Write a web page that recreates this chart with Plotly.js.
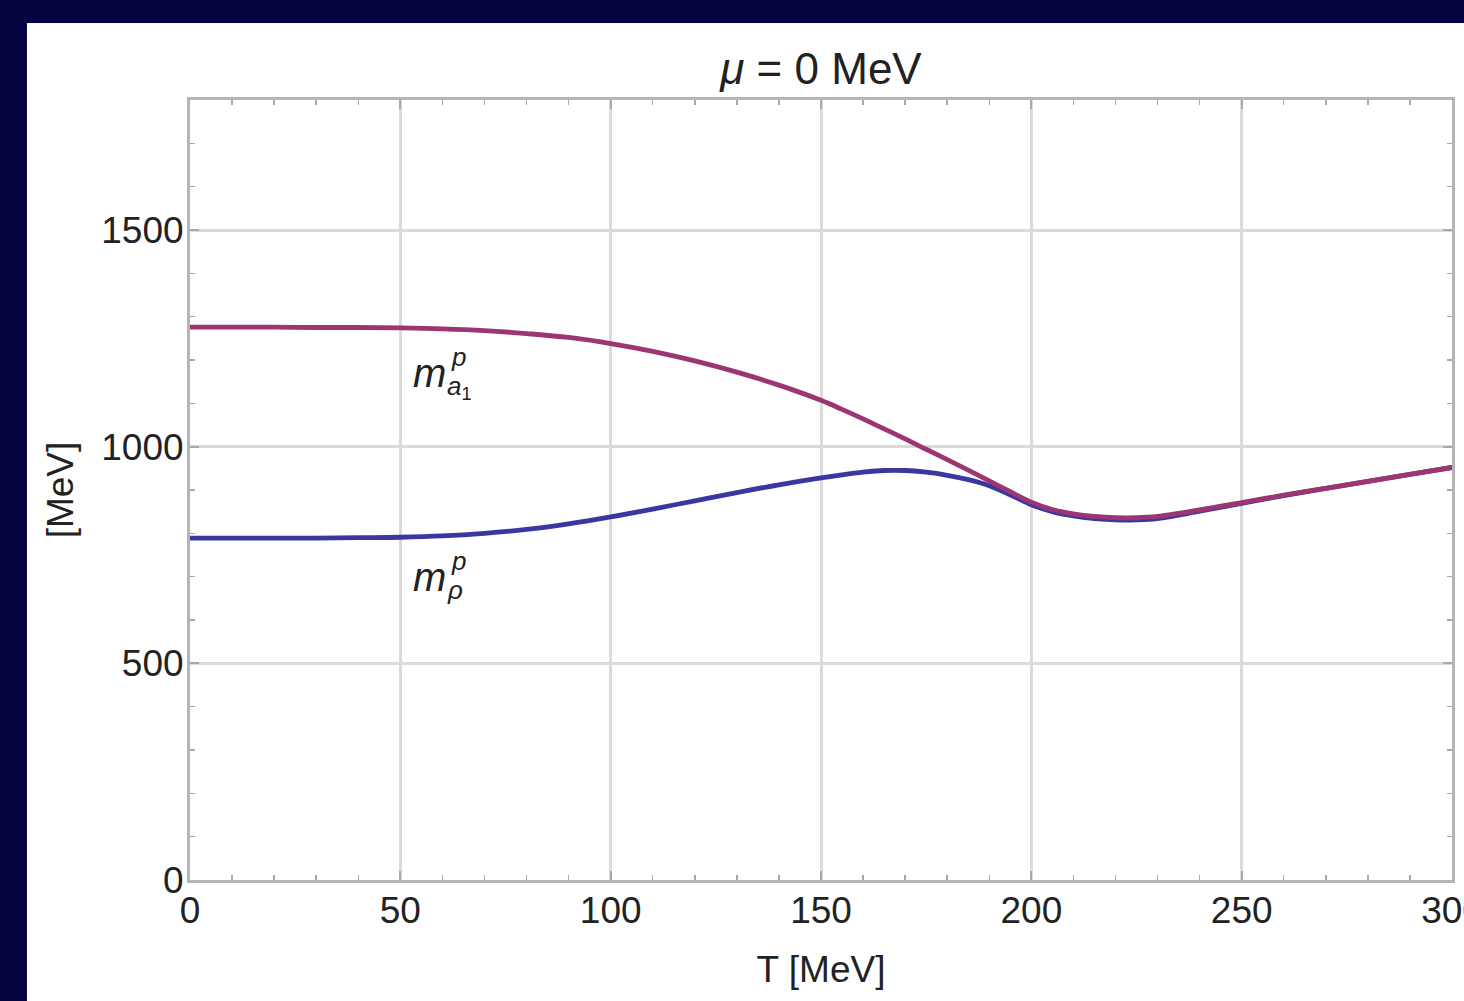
<!DOCTYPE html>
<html>
<head>
<meta charset="utf-8">
<script src="https://cdn.plot.ly/plotly-3.0.1.min.js"></script>
<style>html,body{margin:0;padding:0;background:#050340;}#chart{width:1464px;height:1001px;}</style>
</head>
<body>
<div id="chart"></div>
<script>
const T = [0,10,20,30,40,50,60,70,80,90,100,110,120,130,140,150,155,160,165,170,175,180,185,190,195,200,205,210,215,220,225,230,240,250,260,270,280,290,300];
const mA1 = [1276,1276,1276,1275,1275,1274,1272,1268,1261,1252,1238,1220,1198,1172,1142,1107,1086,1064,1041,1018,994,970,946,921,896,872,855,845,839,836,836,839,854,871,888,904,920,936,952];
const mRho = [789,789,789,789,790,791,794,800,809,822,838,856,875,894,912,928,935,941,945,945,941,934,924,910,889,866,850,840,834,831,831,834,851,869,887,904,920,936,952];
const xTicks = [0,50,100,150,200,250,300];
const yTicks = [0,500,1000,1500];

const F = 'Liberation Sans, Arial, Helvetica, sans-serif';
const traces = [
  {x: T, y: mRho, mode: 'lines', line: {color: '#3b37a2', width: 4.8, shape: 'spline', smoothing: 1}, hoverinfo: 'skip'},
  {x: T, y: mA1, mode: 'lines', line: {color: '#9b3672', width: 4.8, shape: 'spline', smoothing: 1}, hoverinfo: 'skip'}
];
const axisCommon = {
  showline: true, linecolor: '#b5b5b5', linewidth: 3, mirror: 'allticks',
  showgrid: true, gridcolor: '#dadada', gridwidth: 3,
  ticks: 'inside', ticklen: 9, tickwidth: 2, tickcolor: '#a8a8a8',
  zeroline: false, tickfont: {family: F, size: 37, color: '#222'},
  tickmode: 'array', ticklabeloverflow: 'allow'
};
const layout = {
  width: 1464, height: 1001,
  paper_bgcolor: '#050340', plot_bgcolor: 'rgba(0,0,0,0)',
  margin: {l: 190, r: 12, t: 100, b: 121},
  showlegend: false,
  title: {text: '<i>μ</i> = 0 MeV', font: {family: F, size: 44, color: '#222'}, x: 0.5, xref: 'paper', y: 0.931, yref: 'container', yanchor: 'middle'},
  xaxis: Object.assign({}, axisCommon, {
    range: [0, 300], tickvals: xTicks, ticktext: xTicks.map(String),
    minor: {dtick: 10, ticks: 'inside', ticklen: 5, tickwidth: 1.5, tickcolor: '#a8a8a8', showgrid: false},
    ticklabelstandoff: -4,
    title: {text: 'T [MeV]', font: {family: F, size: 37, color: '#222'}, standoff: 26}
  }),
  yaxis: Object.assign({}, axisCommon, {
    range: [0, 1800], tickvals: yTicks, ticktext: yTicks.map(String),
    minor: {dtick: 100, ticks: 'inside', ticklen: 5, tickwidth: 1.5, tickcolor: '#a8a8a8', showgrid: false},
    ticklabelstandoff: -4,
    title: {text: '[MeV]', font: {family: F, size: 37, color: '#222'}, standoff: 17}
  }),
  shapes: [
    {type: 'rect', xref: 'paper', yref: 'paper', x0: -0.1292, x1: 1.02, y0: -0.17, y1: 1.0987, fillcolor: '#ffffff', line: {width: 0}, layer: 'below'}
  ],
  annotations: [
    {x: 57, y: 1170, xref: 'x', yref: 'y', text: '<i>m</i>', showarrow: false, font: {family: F, size: 40, color: '#222'}},
    {x: 63.8, y: 1207, xref: 'x', yref: 'y', text: '<i>p</i>', showarrow: false, font: {family: F, size: 26, color: '#222'}},
    {x: 64, y: 1137, xref: 'x', yref: 'y', text: '<i>a</i><sub>1</sub>', showarrow: false, font: {family: F, size: 26, color: '#222'}},
    {x: 57, y: 700, xref: 'x', yref: 'y', text: '<i>m</i>', showarrow: false, font: {family: F, size: 40, color: '#222'}},
    {x: 63.8, y: 737, xref: 'x', yref: 'y', text: '<i>p</i>', showarrow: false, font: {family: F, size: 26, color: '#222'}},
    {x: 63, y: 670, xref: 'x', yref: 'y', text: '<i>ρ</i>', showarrow: false, font: {family: F, size: 26, color: '#222'}}
  ]
};
Plotly.newPlot('chart', traces, layout, {displayModeBar: false, staticPlot: true});
</script>
</body>
</html>
